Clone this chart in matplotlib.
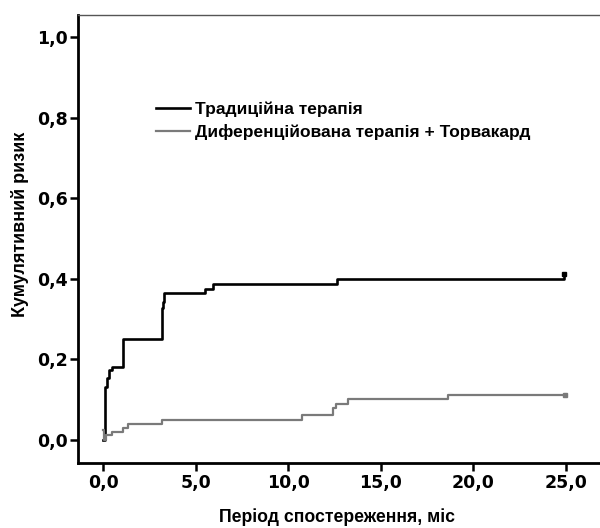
import matplotlib
matplotlib.use("Agg")
import matplotlib.pyplot as plt

# Традиційна терапія (час, міс / кумулятивний ризик)
t_trad = [0.0, 0.1, 0.2, 0.3, 0.45, 1.08, 3.15, 3.2, 3.3, 5.5, 5.95, 12.65, 24.9]
r_trad = [0.0, 0.132, 0.154, 0.174, 0.181, 0.251, 0.328, 0.343, 0.364, 0.376, 0.387, 0.40, 0.412]

# Диференційована терапія + Торвакард
t_diff = [0.0, 0.05, 0.15, 0.45, 1.08, 1.35, 3.15, 10.72, 12.43, 12.6, 13.24, 18.65, 24.95]
r_diff = [0.025, 0.0, 0.012, 0.019, 0.029, 0.04, 0.05, 0.062, 0.079, 0.089, 0.102, 0.113, 0.113]

x_ticks = [0, 5, 10, 15, 20, 25]
x_labels = ["0,0", "5,0", "10,0", "15,0", "20,0", "25,0"]
y_ticks = [0.0, 0.2, 0.4, 0.6, 0.8, 1.0]
y_labels = ["0,0", "0,2", "0,4", "0,6", "0,8", "1,0"]

fig = plt.figure(figsize=(6, 5.28), dpi=100)
ax = fig.add_axes([0.13, 0.123, 0.89, 0.849])

ax.step(t_trad, r_trad, where="post", color="black", lw=1.9,
        label="Традиційна терапія")
ax.step(t_diff, r_diff, where="post", color="#7a7a7a", lw=1.6,
        label="Диференційована терапія + Торвакард")
ax.plot(t_trad[-1], r_trad[-1], "s", color="black", ms=3)
ax.plot(t_diff[-1], r_diff[-1], "s", color="#7a7a7a", ms=3)

ax.set_xlim(-1.37, 27.5)
ax.set_ylim(-0.057, 1.055)
ax.set_xticks(x_ticks)
ax.set_xticklabels(x_labels)
ax.set_yticks(y_ticks)
ax.set_yticklabels(y_labels)
ax.tick_params(direction="out", length=6, width=1.8)
ax.tick_params(axis="x", pad=2)
ax.tick_params(axis="y", pad=1.5)
for lab in ax.get_xticklabels() + ax.get_yticklabels():
    lab.set_fontweight("bold")
    lab.set_fontsize(12.5)

for s in ["left", "bottom"]:
    ax.spines[s].set_linewidth(2)
ax.spines["top"].set_linewidth(1)
ax.spines["top"].set_color("#555555")
ax.spines["right"].set_visible(False)

# підписи осей
fig.text(337 / 600, 1 - 517 / 528, "Період спостереження, міс", ha="center", va="center",
         fontsize=12.7, fontweight="bold", family="Liberation Sans")
fig.text(20 / 600, 1 - 224 / 528, "Кумулятивний ризик", ha="center", va="center",
         rotation=90, fontsize=13, fontweight="bold", family="Liberation Sans")

ax.legend(loc="upper left", bbox_to_anchor=(0.133, 0.822), frameon=False,
          handlelength=1.95, handletextpad=0.3, labelspacing=0.4,
          borderaxespad=0, prop={"family": "Liberation Sans", "weight": "bold", "size": 12.5})

fig.savefig("out.png", dpi=100)
